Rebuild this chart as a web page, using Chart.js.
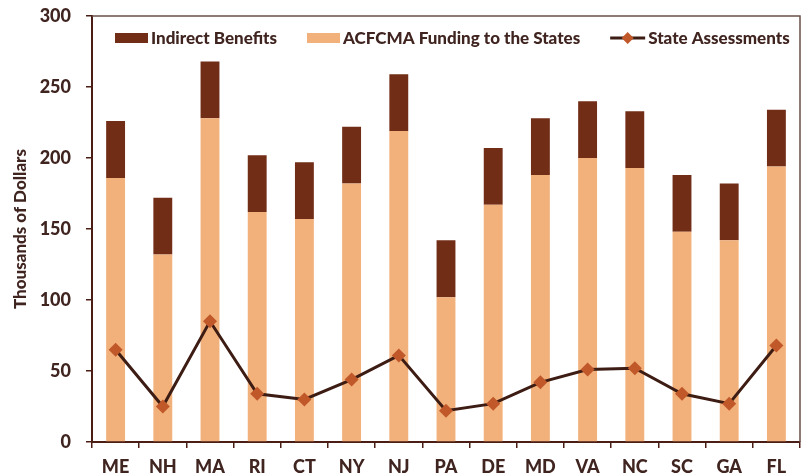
<!DOCTYPE html>
<html>
<head>
<meta charset="utf-8">
<script src="https://cdn.jsdelivr.net/npm/chart.js@4/dist/chart.umd.min.js"></script>
<style>
    html, body { margin: 0; padding: 0; background: #fff; }
    #wrap { width: 807px; height: 475px; position: relative; }
</style>
</head>
<body>
<div id="wrap"><canvas id="fundingChart"></canvas></div>
<script>
// Chart data
const states = ['ME', 'NH', 'MA', 'RI', 'CT', 'NY', 'NJ', 'PA', 'DE', 'MD', 'VA', 'NC', 'SC', 'GA', 'FL'];
const acfcmaFunding = [186, 132, 228, 162, 157, 182, 219, 102, 167, 188, 200, 193, 148, 142, 194];
const indirectBenefits = [40, 40, 40, 40, 40, 40, 40, 40, 40, 40, 40, 40, 40, 40, 40];
const stateAssessments = [65, 25, 85, 34, 30, 44, 61, 22, 27, 42, 51, 52, 34, 27, 68];
const yTicks = [0, 50, 100, 150, 200, 250, 300];

const textColor = '#3f2420';
const axisColor = '#4a1e14';
const indirectColor = '#722d16';
const fundingColor = '#f2b07a';
const lineColor = '#3d1c14';
const markerColor = '#c0582a';
const fontFamily = 'Lato, "Open Sans", sans-serif';

// Plot frame (top and right edges)
const framePlugin = {
    id: 'frame',
    beforeDatasetsDraw(chart) {
        const { ctx, chartArea: a } = chart;
        ctx.save();
        ctx.strokeStyle = '#6b504a';
        ctx.lineWidth = 1.5;
        ctx.beginPath();
        ctx.moveTo(a.left, a.top);
        ctx.lineTo(a.right, a.top);
        ctx.lineTo(a.right, a.bottom);
        ctx.stroke();
        ctx.restore();
    }
};

// Legend drawn inside the plot area
const insideLegend = {
    id: 'insideLegend',
    afterDraw(chart) {
        const { ctx, chartArea: a } = chart;
        const y = a.top + 22;
        let x = a.left + 23;
        ctx.save();
        ctx.font = '900 17px ' + fontFamily;
        ctx.textBaseline = 'middle';
        ctx.fillStyle = textColor;

        const items = [
            { label: 'Indirect Benefits', type: 'box', color: indirectColor },
            { label: 'ACFCMA Funding to the States', type: 'box', color: fundingColor },
            { label: 'State Assessments', type: 'line' }
        ];
        items.forEach(item => {
            if (item.type === 'box') {
                ctx.fillStyle = item.color;
                ctx.fillRect(x, y - 5, 33, 10);
            } else {
                ctx.strokeStyle = lineColor;
                ctx.lineWidth = 3;
                ctx.beginPath();
                ctx.moveTo(x, y);
                ctx.lineTo(x + 35, y);
                ctx.stroke();
                ctx.fillStyle = markerColor;
                ctx.beginPath();
                ctx.moveTo(x + 17.5, y - 6);
                ctx.lineTo(x + 23.5, y);
                ctx.lineTo(x + 17.5, y + 6);
                ctx.lineTo(x + 11.5, y);
                ctx.closePath();
                ctx.fill();
            }
            const tx = x + (item.type === 'box' ? 36 : 38);
            ctx.fillStyle = textColor;
            ctx.fillText(item.label, tx, y + 1);
            x = tx + ctx.measureText(item.label).width + 30;
        });
        ctx.restore();
    }
};

document.addEventListener('DOMContentLoaded', () => {
    const ctx = document.getElementById('fundingChart').getContext('2d');
    new Chart(ctx, {
        data: {
            labels: states,
            datasets: [
                {
                    type: 'line',
                    label: 'State Assessments',
                    data: stateAssessments,
                    stack: 'assess',
                    borderColor: lineColor,
                    borderWidth: 3,
                    tension: 0,
                    pointStyle: 'rectRot',
                    pointRadius: 7,
                    pointBackgroundColor: markerColor,
                    pointBorderColor: markerColor,
                    pointBorderWidth: 0,
                    order: 0
                },
                {
                    type: 'bar',
                    label: 'ACFCMA Funding to the States',
                    data: acfcmaFunding,
                    stack: 'funds',
                    backgroundColor: fundingColor,
                    categoryPercentage: 1,
                    barPercentage: 0.4,
                    order: 1
                },
                {
                    type: 'bar',
                    label: 'Indirect Benefits',
                    data: indirectBenefits,
                    stack: 'funds',
                    backgroundColor: indirectColor,
                    categoryPercentage: 1,
                    barPercentage: 0.4,
                    order: 1
                }
            ]
        },
        options: {
            responsive: true,
            maintainAspectRatio: false,
            animation: false,
            layout: { padding: { top: 16, right: 5, left: 0, bottom: 0 } },
            plugins: {
                legend: { display: false },
                tooltip: { enabled: false }
            },
            scales: {
                x: {
                    stacked: true,
                    offset: true,
                    grid: {
                        offset: true,
                        drawOnChartArea: false,
                        tickLength: 6,
                        color: axisColor,
                        lineWidth: 1.5
                    },
                    border: { color: axisColor, width: 2 },
                    ticks: {
                        color: textColor,
                        font: { family: fontFamily, size: 18, weight: '900' },
                        padding: 8
                    },
                    afterFit(scale) {
                        scale.height = 33;
                        scale.paddingLeft = 0;
                        scale.paddingRight = 0;
                    }
                },
                y: {
                    stacked: true,
                    min: 0,
                    max: 300,
                    afterBuildTicks(scale) {
                        scale.ticks = yTicks.map(v => ({ value: v }));
                    },
                    grid: {
                        drawOnChartArea: false,
                        tickLength: 6,
                        color: axisColor,
                        lineWidth: 1.5
                    },
                    border: { color: axisColor, width: 2 },
                    ticks: {
                        color: textColor,
                        font: { family: fontFamily, size: 18, weight: '900' },
                        padding: 15
                    },
                    title: {
                        display: true,
                        text: 'Thousands of Dollars',
                        color: textColor,
                        font: { family: fontFamily, size: 17, weight: '900' },
                        padding: { top: 10, bottom: 4 }
                    },
                    afterFit(scale) {
                        scale.width = 92;
                        scale.paddingTop = 0;
                        scale.paddingBottom = 0;
                    }
                }
            }
        },
        plugins: [framePlugin, insideLegend]
    });
});
</script>
</body>
</html>
